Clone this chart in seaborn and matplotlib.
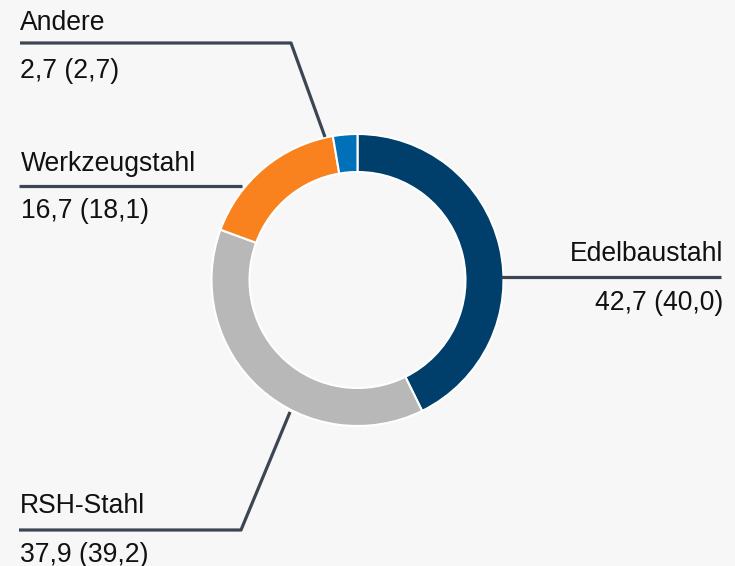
import matplotlib
matplotlib.use("Agg")
import matplotlib.pyplot as plt
import seaborn as sns

# Umsatz nach Produktgruppen (Vorjahr in Klammern)
categories = ["Edelbaustahl", "RSH-Stahl", "Werkzeugstahl", "Andere"]
values = [42.7, 37.9, 16.7, 2.7]
value_labels = ["42,7 (40,0)", "37,9 (39,2)", "16,7 (18,1)", "2,7 (2,7)"]
colors = ["#003f6b", "#b8b8b8", "#f9811e", "#0070b9"]

W, H = 735, 566
bg = "#f7f7f7"
line_col = "#3c4652"

sns.set_theme(style="white", rc={"figure.facecolor": bg, "axes.facecolor": bg})
plt.rcParams["font.family"] = ["Liberation Sans", "DejaVu Sans"]

fig = plt.figure(figsize=(W / 100, H / 100), dpi=100)
ax = fig.add_axes([0, 0, 1, 1])

# donut, centre/radius in pixel space (y flipped)
cx, cy, r = 357.5, H - 280, 146
ax.pie(values, colors=colors, startangle=90, counterclock=False,
       center=(cx, cy), radius=r, frame=True,
       wedgeprops=dict(width=38, edgecolor="white", linewidth=1.5))

ax.set_xlim(0, W)
ax.set_ylim(0, H)
ax.set_axis_off()

fs = 19.1
lw = 2.3


def py(y):
    return H - y


# Edelbaustahl (right)
ax.plot([501, 721], [py(277), py(277)], color=line_col, lw=lw, solid_capstyle="butt")
ax.text(723, py(261), categories[0], ha="right", va="baseline", fontsize=fs, color="#111111")
ax.text(723, py(310), value_labels[0], ha="right", va="baseline", fontsize=fs, color="#111111")

# RSH-Stahl (bottom left)
ax.plot([290, 241, 19], [py(412), py(530), py(530)], color=line_col, lw=lw, solid_capstyle="butt")
ax.text(20, py(513), categories[1], ha="left", va="baseline", fontsize=fs, color="#111111")
ax.text(20, py(562), value_labels[1], ha="left", va="baseline", fontsize=fs, color="#111111")

# Werkzeugstahl (left)
ax.plot([19, 242], [py(186), py(186)], color=line_col, lw=lw, solid_capstyle="butt")
ax.text(21, py(171), categories[2], ha="left", va="baseline", fontsize=fs, color="#111111")
ax.text(21, py(218), value_labels[2], ha="left", va="baseline", fontsize=fs, color="#111111")

# Andere (top left)
ax.plot([20, 291, 325], [py(43), py(43), py(137)], color=line_col, lw=lw, solid_capstyle="butt")
ax.text(20, py(30), categories[3], ha="left", va="baseline", fontsize=fs, color="#111111")
ax.text(20, py(78), value_labels[3], ha="left", va="baseline", fontsize=fs, color="#111111")

fig.savefig("out.png", dpi=100, facecolor=bg)
